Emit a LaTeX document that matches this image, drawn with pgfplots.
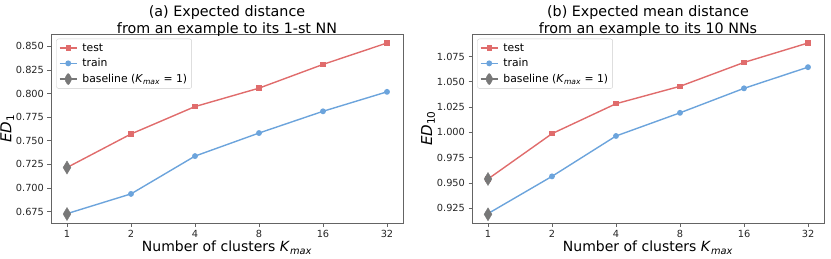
\documentclass[border=0pt]{standalone}
\usepackage{pgfplots}
\pgfplotsset{compat=1.18}
\usepackage{fontspec}
\setmainfont{DejaVu Sans}
\definecolor{cred}{RGB}{224,108,108}
\definecolor{cblue}{RGB}{108,164,220}
\definecolor{cgray}{RGB}{120,120,120}
\definecolor{spine}{RGB}{100,100,100}
\pgfplotsset{
  myaxis/.style={
    scale only axis, width=352pt, height=189pt,
    xmin=-0.25, xmax=5.25,
    xtick={0,1,2,3,4,5}, xticklabels={1,2,4,8,16,32},
    axis line style={spine, line width=0.8pt},
    tick style={spine, line width=0.8pt},
    tick align=outside, major tick length=3.5pt,
    xtick pos=bottom, ytick pos=left,
    /pgf/number format/assume math mode=true,
    /pgf/number format/fixed, /pgf/number format/fixed zerofill,
    /pgf/number format/precision=3,
    tick label style={font=\fontsize{9.8}{11}\selectfont, text=black!85},
    xlabel={Number of clusters \textit{K}\textsubscript{\textit{max}}},
    xlabel style={font=\fontsize{14}{16}\selectfont, yshift=3pt},
    ylabel style={font=\fontsize{15}{17}\selectfont, yshift=-5pt},
    title style={font=\fontsize{14.3}{16.5}\selectfont, align=center, yshift=-12pt},
    legend pos=north west,
    legend style={font=\fontsize{10.8}{13}\selectfont, draw=black!20, rounded corners=2pt, row sep=2pt, inner sep=2.5pt, at={(0.015,0.975)},
      nodes={inner sep=2pt}, /tikz/every odd column/.append style={column sep=3pt}},
    legend cell align=left,
  },
  testp/.style={cred, line width=1.4pt, mark=square*, mark size=2pt, mark options={solid}},
  trainp/.style={cblue, line width=1.4pt, mark=*, mark size=2.2pt},
  basep/.style={only marks, cgray, mark=diamond*, mark size=6.5pt, mark options={xscale=0.8}},
  baseleg/.style={legend image code/.code={
    \draw[cgray, line width=1.2pt] (0cm,0cm) -- (0.6cm,0cm);
    \draw[cgray, fill=cgray] (0.3cm,6.5pt) -- (0.3cm+3.9pt,0pt) -- (0.3cm,-6.5pt) -- (0.3cm-3.9pt,0pt) -- cycle;
  }},
}
\begin{document}
\begin{tikzpicture}
\path[use as bounding box] (-51pt,-35pt) rectangle (780pt,223pt);
\begin{axis}[myaxis, at={(0pt,0pt)}, anchor=south west,
  ymin=0.663, ymax=0.863, ytick={0.675,0.700,0.725,0.750,0.775,0.800,0.825,0.850},
  ylabel={\textit{ED}\textsubscript{1}},
  title={(a) Expected distance\\from an example to its 1-st NN}]
\addplot[testp] coordinates {(0,0.7217) (1,0.7572) (2,0.7862) (3,0.8057) (4,0.8308) (5,0.8535)};
\addlegendentry{test}
\addplot[trainp] coordinates {(0,0.6729) (1,0.6938) (2,0.7338) (3,0.7582) (4,0.7812) (5,0.8018)};
\addlegendentry{train}
\addplot[basep, baseleg] coordinates {(0,0.7217) (0,0.6725)};
\addlegendentry{baseline (\textit{K}\textsubscript{\textit{max}} = 1)}
\end{axis}
\begin{axis}[myaxis, at={(421pt,0pt)}, anchor=south west,
  ymin=0.9104, ymax=1.0972, ytick={0.925,0.950,0.975,1.000,1.025,1.050,1.075},
  ylabel={\textit{ED}\textsubscript{10}},
  title={(b) Expected mean distance\\from an example to its 10 NNs}]
\addplot[testp] coordinates {(0,0.9539) (1,0.9987) (2,1.0283) (3,1.0455) (4,1.0691) (5,1.0883)};
\addlegendentry{test}
\addplot[trainp] coordinates {(0,0.9197) (1,0.9565) (2,0.9964) (3,1.0193) (4,1.0435) (5,1.0644)};
\addlegendentry{train}
\addplot[basep, baseleg] coordinates {(0,0.9539) (0,0.9190)};
\addlegendentry{baseline (\textit{K}\textsubscript{\textit{max}} = 1)}
\end{axis}
\end{tikzpicture}
\end{document}
